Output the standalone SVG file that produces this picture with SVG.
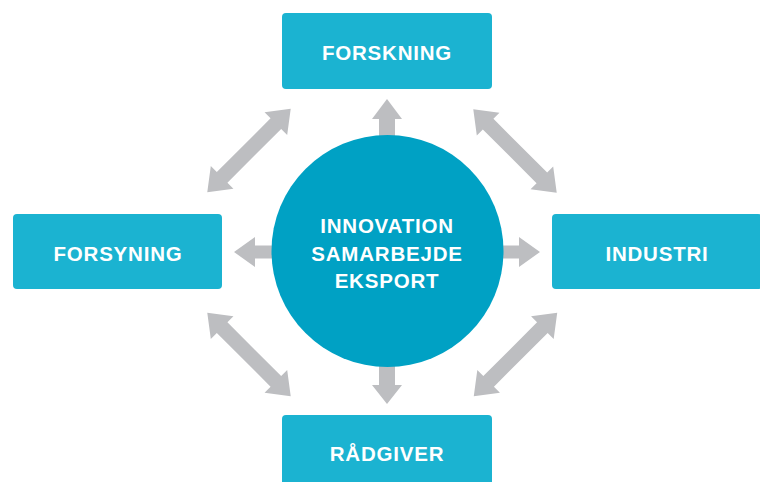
<svg xmlns="http://www.w3.org/2000/svg" width="760" height="482" viewBox="0 0 760 482">
<defs>
<style>
.box{fill:#1bb3d1}
.lbl{font-family:"Liberation Sans",Arial,sans-serif;font-weight:bold;font-size:20.5px;fill:#ffffff;text-anchor:middle;letter-spacing:0.8px}
.arr{fill:#bdbec1}
</style>
<polygon id="dbl" points="-59,0 -38,-16 -38,-7.5 38,-7.5 38,-16 59,0 38,16 38,7.5 -38,7.5 -38,16"/>
</defs>
<rect width="760" height="482" fill="#ffffff"/>
<g id="connectors" class="arr">
<use href="#dbl" transform="translate(249,150.5) rotate(-45)"/>
<use href="#dbl" transform="translate(515,151) rotate(45)"/>
<use href="#dbl" transform="translate(249,354.5) rotate(45)"/>
<use href="#dbl" transform="translate(515.5,354.5) rotate(-45)"/>
<polygon points="387,99 402,119 395,119 395,150 379,150 379,119 372,119"/>
<polygon points="387,404 402,385 395,385 395,355 379,355 379,385 372,385"/>
<polygon points="234,252 255,237 255,245.5 285,245.5 285,258.5 255,258.5 255,267"/>
<polygon points="540,252 519,237 519,245.5 490,245.5 490,258.5 519,258.5 519,267"/>
</g>
<g id="center">
<circle cx="387.5" cy="251" r="116" fill="#00a1c4"/>
<text class="lbl" x="387" y="233">INNOVATION</text>
<text class="lbl" x="387" y="261">SAMARBEJDE</text>
<text class="lbl" x="387" y="288">EKSPORT</text>
</g>
<g id="forskning">
<rect class="box" x="282" y="13" width="210" height="76" rx="4"/>
<text class="lbl" x="387" y="60">FORSKNING</text>
</g>
<g id="forsyning">
<rect class="box" x="13" y="214" width="209" height="75" rx="4"/>
<text class="lbl" x="118" y="261">FORSYNING</text>
</g>
<g id="industri">
<rect class="box" x="552" y="214" width="210" height="75" rx="4"/>
<text class="lbl" x="657" y="261">INDUSTRI</text>
</g>
<g id="raadgiver">
<rect class="box" x="282" y="415" width="210" height="76" rx="4"/>
<text class="lbl" x="387" y="461">RÅDGIVER</text>
</g>
</svg>
